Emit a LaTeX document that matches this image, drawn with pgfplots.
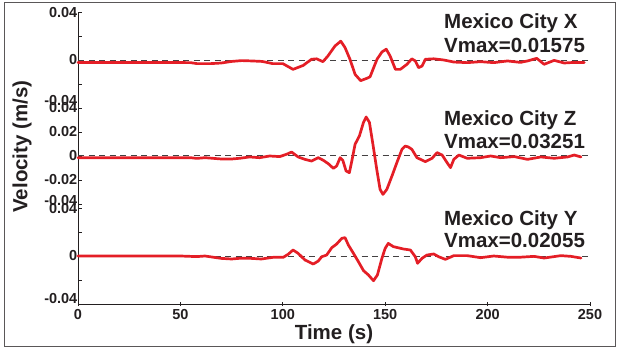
\documentclass[border=0pt]{standalone}
\usepackage{fontspec}
\setmainfont{Liberation Sans}
\usepackage{pgfplots}
\pgfplotsset{compat=1.18}
\definecolor{trace}{RGB}{228,30,38}
\definecolor{ink}{RGB}{35,31,32}
\tikzset{
  tr/.style={trace, line width=2.7pt, line join=round, line cap=round},
  zl/.style={ink!85, line width=1pt, dash pattern=on 6pt off 4.5pt},
  lab/.style={font=\bfseries\fontsize{20.5}{24}\selectfont, text=ink, anchor=base west, inner sep=0pt},
}
\pgfplotsset{
  panel/.style={
    scale only axis, width=512pt,
    xmin=0, xmax=250, ymin=-0.04, ymax=0.04,
    scaled y ticks=false,
    axis y line=left,
    tick align=inside, major tick length=4pt,
    tick style={ink, line width=0.8pt},
    yticklabel style={font=\bfseries\fontsize{14.5}{15}\selectfont, text=ink, inner sep=0.5pt},
    xticklabel style={font=\bfseries\fontsize{14.5}{15}\selectfont, text=ink},
    clip=false,
  },
  fix/.style={axis line style={-, ink, line width=1pt}},
}
\begin{document}
\begin{tikzpicture}
\path[use as bounding box] (0pt,0pt) rectangle (619pt,-350pt);
\draw[ink!75, line width=1pt] (4pt,-3pt) rectangle (615pt,-346pt);
\node[rotate=90, font=\bfseries\fontsize{20.5}{24}\selectfont, text=ink] at (22pt,-146.5pt) {Velocity (m/s)};

% ---- Panel X
\begin{axis}[panel, at={(78pt,-108pt)}, anchor=south west, height=96pt,
  axis x line=none, fix,
  ytick={-0.04,-0.02,0,0.02,0.04},
  yticklabels={{\raisebox{16pt}{-0.04}},{},0,{},{\raisebox{-12pt}{0.04}}}]
\addplot[zl] coordinates {(0,0) (250,0)};
\addplot[tr] coordinates {
(0,-0.002) (20,-0.002) (40,-0.002) (55,-0.0022) (58,-0.003) (65,-0.003) (70,-0.0025)
(75,-0.0012) (80,-0.0005) (85,-0.0008) (90,-0.0012) (95,-0.003) (100,-0.003)
(105,-0.0078) (110,-0.0045) (114,0.0006) (116.5,0.001) (119.6,-0.0014) (122,0.0033)
(125.5,0.0117) (128.3,0.0157) (130.4,0.0103) (132.8,0.0006) (135.3,-0.012) (138,-0.0172)
(141,-0.0153) (142.6,-0.014) (146,0.0006) (148.4,0.0067) (150.5,0.009) (152.4,0.0033)
(155,-0.0078) (157.4,-0.0078) (160.6,-0.0036) (163,0.001) (164.7,-0.0008) (166.3,-0.0064)
(168,-0.005) (169.6,0.0006) (173.7,0.001) (178.6,0) (183.5,-0.0017) (190,-0.0022)
(196.6,-0.0014) (203,-0.0022) (209.7,-0.0008) (216,-0.002) (219.5,-0.0008) (224,0.0014)
(227.6,-0.0036) (232.5,-0.0003) (237.4,-0.0025) (242.3,-0.002) (247.2,-0.002)};
\node[lab] at (axis cs:178.7,0.0264) {Mexico City X};
\node[lab] at (axis cs:178.7,0.0064) {Vmax=0.01575};
\end{axis}

% ---- Panel Z
\begin{axis}[panel, at={(78pt,-208pt)}, anchor=south west, height=100pt,
  ymin=-0.04333,
  axis x line=none, fix,
  ytick={-0.04,-0.02,0,0.02,0.04},
  yticklabels={{\raisebox{8pt}{-0.04}},-0.02,0,0.02,{\raisebox{-10pt}{0.04}}}]
\addplot[zl] coordinates {(0,0) (250,0)};
\addplot[tr] coordinates {
(0,-0.0014) (30,-0.0014) (55,-0.0014) (58,-0.002) (62,-0.0014) (70,-0.0025) (75,-0.0025)
(79,-0.0019) (83.8,-0.0008) (88.7,-0.0014) (93.6,0) (98.5,-0.0005) (101.8,0.0014)
(104.3,0.0033) (107.5,-0.0008) (110.8,-0.0028) (114,-0.0042) (117.3,-0.0014)
(119.8,-0.0036) (122.2,-0.0064) (124.7,-0.0103) (126.3,-0.0083) (128,-0.0014)
(129.3,-0.0036) (130.9,-0.0125) (132.5,-0.0139) (133.7,-0.0042) (135.3,0.0098)
(137.4,0.0167) (139.4,0.028) (140.7,0.0325) (142.3,0.028) (144,0.0098) (146,-0.0125)
(147.5,-0.0278) (148.9,-0.032) (150.8,-0.0278) (153.3,-0.0167) (155.7,-0.0055)
(158.2,0.0056) (159.8,0.0083) (161.3,0.0075) (163,0.0056) (165.5,-0.0014) (169.6,-0.0047)
(172.9,-0.0019) (175.3,0.0028) (177.8,0.0008) (180.2,-0.0055) (181.9,-0.0097)
(183.5,-0.0028) (186,0.0008) (190,-0.0019) (196.6,-0.0014) (201.5,0) (206.4,-0.0014)
(213,-0.0005) (219.5,-0.0028) (226,-0.0008) (232.5,-0.0019) (239,-0.0008)
(242.3,0.0008) (245.6,-0.0008)};
\node[lab] at (axis cs:178.7,0.0258) {Mexico City Z};
\node[lab] at (axis cs:178.7,0.0064) {Vmax=0.03251};
\end{axis}

% ---- Panel Y
\begin{axis}[panel, at={(78pt,-304pt)}, anchor=south west, height=96pt,
  axis x line=bottom, fix,
  xtick={0,50,100,150,200,250}, xticklabels={0,50,100,150,200,250},
  xlabel={Time (s)},
  xlabel style={font=\bfseries\fontsize{20.5}{24}\selectfont, text=ink, yshift=2pt},
  ytick={-0.04,-0.02,0,0.02,0.04},
  yticklabels={{\raisebox{12pt}{-0.04}},{},0,{},{\raisebox{-12pt}{0.04}}}]
\addplot[zl] coordinates {(0,0) (250,0)};
\addplot[tr] coordinates {
(0,0) (50,0) (58,-0.0005) (62,0) (70,-0.002) (75,-0.0025) (79,-0.0019) (83.8,-0.0019)
(89.5,-0.0025) (95.3,-0.0011) (100.2,-0.0011) (102.6,0.0014) (105,0.005) (107.5,0.0022)
(110.8,-0.0033) (114.9,-0.0067) (117.3,-0.0042) (119,-0.0006) (121.4,0.0008)
(123.9,0.0069) (126.3,0.01) (128.8,0.0147) (130.4,0.0153) (132,0.0092) (134.5,0.0022)
(136.9,-0.0047) (139.4,-0.0122) (141.8,-0.0158) (144.3,-0.0206) (146.2,-0.0158)
(148.4,-0.0019) (150,0.0064) (151.5,0.0105) (154,0.0078) (159,0.0058) (162.3,0.005)
(164.7,-0.0006) (165.8,-0.0061) (168,-0.0019) (170.4,0.0008) (173.7,0.0017)
(176.1,-0.0006) (179.4,-0.0028) (183.5,0.0003) (190,0.0003) (196.6,-0.0014) (203,0)
(209.7,-0.001) (216,-0.001) (222.7,-0.0003) (227.6,-0.0017) (235.8,0.0003)
(240.7,-0.0003) (245.6,-0.0017)};
\node[lab] at (axis cs:178.7,0.0258) {Mexico City Y};
\node[lab] at (axis cs:178.7,0.0069) {Vmax=0.02055};
\end{axis}
\end{tikzpicture}
\end{document}
